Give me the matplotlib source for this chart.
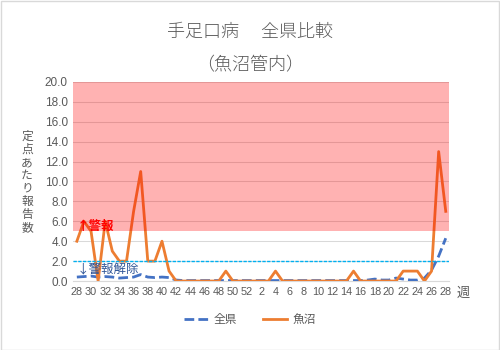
import numpy as np
import matplotlib
matplotlib.use("Agg")
from matplotlib import pyplot as plt
from matplotlib.patches import Rectangle

plt.rcParams['font.family'] = ['Liberation Sans', 'Noto Sans CJK JP', 'DejaVu Sans']

# week numbers: 28..52 then 1..28
weeks = list(range(28, 53)) + list(range(1, 29))

# 全県
zenken = [0.4, 0.45, 0.5, 0.4, 0.45, 0.4, 0.3, 0.35, 0.4, 0.65,
          0.4, 0.35, 0.4, 0.35, 0.1, 0.05, 0.05, 0.05, 0.05, 0.05,
          0.05, 0.05, 0.05, 0.05, 0.05, 0.05, 0.05, 0.05, 0.05, 0.05,
          0.05, 0.05, 0.05, 0.05, 0.05, 0.05, 0.05, 0.05, 0.05, 0.05,
          0.05, 0.1, 0.2, 0.1, 0.1, 0.3, 0.2, 0.1, 0.1, 0.3,
          1.1, 2.5, 4.3]

# 魚沼
uonuma = [4.0, 6.0, 5.0, 0.0, 6.0, 3.0, 2.0, 2.0, 7.0, 11.0,
          2.0, 2.0, 4.0, 1.0, 0.0, 0.0, 0.0, 0.0, 0.0, 0.0,
          0.0, 1.0, 0.0, 0.0, 0.0, 0.0, 0.0, 0.0, 1.0, 0.0,
          0.0, 0.0, 0.0, 0.0, 0.0, 0.0, 0.0, 0.0, 0.0, 1.0,
          0.0, 0.0, 0.0, 0.0, 0.0, 0.0, 1.0, 1.0, 1.0, 0.0,
          1.0, 13.0, 7.0]

alarm_on = 5.0
alarm_off = 2.0
y_ticks = np.arange(0, 20.1, 2.0)

grey = '#595959'
cjk = ['Noto Sans CJK JP', 'DejaVu Sans']
x = np.arange(len(weeks))

fig = plt.figure(figsize=(5, 3.5), dpi=100)
ax = fig.add_axes([0.1466, 0.197, 0.752, 0.569])

ax.set_axisbelow(True)
ax.yaxis.grid(True, color='#D9D9D9', lw=0.75, zorder=0)

ax.plot(x, zenken, color='#4472C4', lw=2, ls=(0, (3.5, 1.5)), zorder=3, label='全県')
ax.plot(x, uonuma, color='#ED7D31', lw=2, zorder=3, label='魚沼')
ax.axhline(alarm_off, color='#00B0F0', lw=1.0, ls=(0, (2.4, 1)), zorder=4)
ax.axhspan(alarm_on, 20, color='#FF0000', alpha=0.3, lw=0, zorder=5)

ax.set_xlim(-0.5, len(weeks) - 0.5)
ax.set_ylim(0, 20)
ax.set_yticks(y_ticks)
ax.set_yticklabels(['%.1f' % v for v in y_ticks], fontsize=8.5, color=grey)
ax.set_xticks(x[::2])
ax.set_xticklabels([str(w) for w in weeks[::2]], fontsize=7.8, color=grey)
ax.tick_params(length=0, pad=4)
for s in ['top', 'right', 'left']:
    ax.spines[s].set_visible(False)
ax.spines['bottom'].set_color('#D9D9D9')

ax.text(0.01, alarm_on + 0.5, '↑警報', color='red', fontsize=9, fontweight='bold',
        family=cjk, transform=ax.get_yaxis_transform(), va='center', ha='left', zorder=6)
ax.text(0.01, alarm_off - 0.9, '↓警報解除', color='#2F5597', fontsize=9,
        family=cjk, transform=ax.get_yaxis_transform(), va='center', ha='left', zorder=6)

fig.text(0.5, 0.909, '手足口病　 全県比較', ha='center', va='center', fontsize=13,
         color=grey, family=cjk, fontweight='light')
fig.text(0.5, 0.814, '（魚沼管内）', ha='center', va='center', fontsize=13,
         color=grey, family=cjk, fontweight='light')
fig.text(27 / 500, 1 - 182 / 350, '\n'.join('定点あたり報告数'), ha='center', va='center',
         fontsize=8.5, color=grey, linespacing=1.0, family=cjk)
fig.text(463 / 500, 1 - 293 / 350, '週', ha='center', va='center', fontsize=9.5,
         color=grey, family=cjk)

fig.legend(loc='center', bbox_to_anchor=(0.5, 1 - 320 / 350), ncol=2, frameon=False,
           fontsize=8.5, labelcolor=grey, handlelength=2.0, handletextpad=0.5,
           columnspacing=2.2)

fig.add_artist(Rectangle((0.001, 0.001), 0.997, 0.996, transform=fig.transFigure,
                         fill=False, ec='#D9D9D9', lw=1))

fig.savefig('out.png', dpi=100)
